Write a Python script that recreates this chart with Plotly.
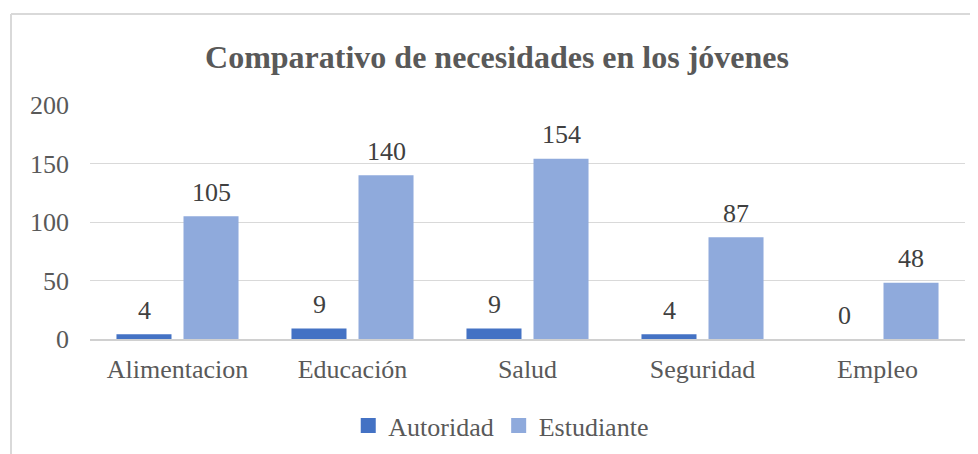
import plotly.graph_objects as go

categories = ["Alimentacion", "Educación", "Salud", "Seguridad", "Empleo"]
autoridad = [4, 9, 9, 4, 0]
estudiante = [105, 140, 154, 87, 48]
series_names = ["Autoridad", "Estudiante"]
series_colors = ["#4472C4", "#8FAADC"]
y_ticks = [0, 50, 100, 150, 200]

FONT = "Liberation Serif"
GRAY = "#595959"
FS = 26

fig = go.Figure()
for name, vals, col in zip(series_names, (autoridad, estudiante), series_colors):
    fig.add_trace(go.Bar(x=categories, y=vals, name=name, showlegend=False,
                         legendgroup=name, marker=dict(color=col, line=dict(width=0))))
for name, col in zip(series_names, series_colors):
    fig.add_trace(go.Scatter(x=[None], y=[None], mode="markers", name=name,
                             legendgroup=name, hoverinfo="skip",
                             marker=dict(symbol="square", size=15, color=col)))

annotations = []
for vals, shift in ((autoridad, -33.5), (estudiante, 33.5)):
    for c, v in zip(categories, vals):
        annotations.append(dict(x=c, y=v, xref="x", yref="y", text=str(v),
                                showarrow=False, xshift=shift, yshift=24,
                                yanchor="middle",
                                font=dict(family=FONT, size=FS, color="#404040")))

fig.update_layout(
    width=978, height=454,
    margin=dict(l=82, r=21, t=97, b=123),
    paper_bgcolor="white", plot_bgcolor="white",
    barmode="group", bargap=0.234, bargroupgap=0.179,
    title=dict(text="<b>Comparativo de necesidades en los jóvenes</b>",
               x=0.5, xanchor="center", y=0.892, yanchor="middle",
               font=dict(family=FONT, size=32, color=GRAY)),
    font=dict(family=FONT, size=FS, color=GRAY),
    xaxis=dict(showgrid=False, showline=True, linecolor="#d0d0d0", linewidth=1.5,
               ticks="", ticklabelstandoff=6,
               tickfont=dict(family=FONT, size=FS, color=GRAY)),
    yaxis=dict(range=[0, 200], tickvals=y_ticks, showgrid=True, gridcolor="#d9d9d9",
               gridwidth=1.2, zeroline=False, showline=False, ticks="",
               ticklabelstandoff=20,
               tickfont=dict(family=FONT, size=FS, color=GRAY)),
    legend=dict(orientation="h", x=0.47, xanchor="center", y=-0.37, yanchor="middle",
                font=dict(family=FONT, size=FS, color=GRAY),
                itemwidth=30, traceorder="normal"),
    annotations=annotations,
    shapes=[
        dict(type="line", xref="paper", yref="paper", x0=-0.0903, x1=-0.0903,
             y0=-0.7, y1=1.389, line=dict(color="#d9d9d9", width=2)),
        dict(type="line", xref="paper", yref="paper", x0=-0.0903, x1=1.1,
             y0=1.389, y1=1.389, line=dict(color="#d9d9d9", width=2)),
    ],
)

fig.write_html("out.html")
